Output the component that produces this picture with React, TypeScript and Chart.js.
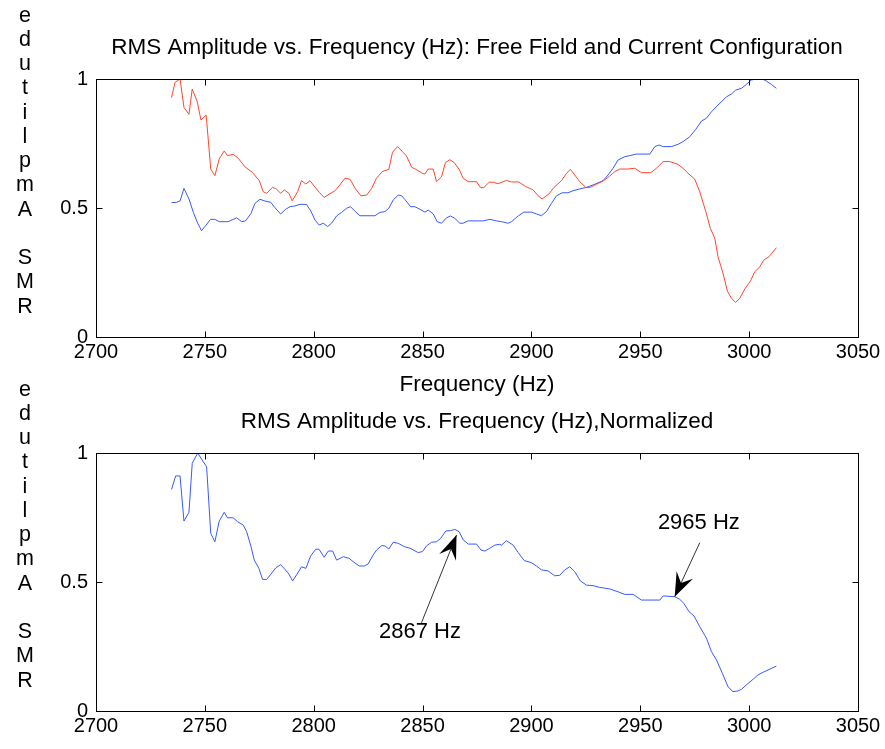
import React, { useEffect, useRef } from "react";
import { Chart, registerables } from "chart.js";

Chart.register(...registerables);

// ---------- data ----------
const redFreq = [2734.7, 2736.3, 2738.6, 2740.4, 2742.7, 2744.2, 2746.5, 2748.2, 2750.6, 2752.7, 2754.6, 2756.6, 2758.9, 2760.4, 2763.0, 2765.3, 2768.4, 2771.8, 2775.0, 2776.8, 2778.4, 2781.0, 2782.6, 2784.8, 2786.5, 2788.6, 2790.1, 2792.6, 2794.4, 2796.4, 2798.3, 2800.2, 2802.5, 2804.8, 2807.1, 2809.7, 2812.0, 2814.3, 2816.6, 2819.2, 2821.7, 2824.3, 2826.6, 2828.8, 2831.5, 2834.5, 2836.2, 2838.5, 2842.6, 2845.0, 2846.9, 2850.0, 2851.1, 2852.6, 2854.9, 2856.4, 2858.7, 2860.5, 2862.5, 2864.4, 2866.8, 2868.7, 2871.0, 2874.8, 2876.6, 2878.1, 2880.6, 2882.4, 2884.7, 2888.5, 2890.8, 2894.2, 2897.4, 2900.8, 2903.1, 2904.9, 2908.0, 2910.3, 2913.8, 2916.1, 2917.9, 2919.9, 2922.2, 2925.0, 2926.8, 2929.9, 2933.2, 2936.0, 2938.3, 2940.6, 2944.1, 2947.5, 2950.5, 2954.8, 2957.4, 2960.5, 2963.5, 2967.4, 2969.6, 2972.4, 2975.0, 2977.3, 2980.1, 2982.2, 2984.2, 2985.7, 2988.0, 2990.0, 2991.9, 2993.8, 2995.7, 2998.0, 3000.6, 3002.6, 3004.9, 3006.7, 3009.1, 3012.5];
const redAmp = [0.928, 0.987, 1.0, 0.89, 0.863, 0.961, 0.912, 0.841, 0.86, 0.651, 0.625, 0.69, 0.721, 0.703, 0.708, 0.693, 0.66, 0.638, 0.606, 0.563, 0.557, 0.579, 0.576, 0.557, 0.57, 0.557, 0.528, 0.563, 0.606, 0.593, 0.606, 0.585, 0.561, 0.541, 0.554, 0.566, 0.589, 0.615, 0.612, 0.574, 0.547, 0.55, 0.576, 0.615, 0.641, 0.65, 0.716, 0.738, 0.702, 0.658, 0.65, 0.634, 0.632, 0.651, 0.651, 0.602, 0.621, 0.676, 0.687, 0.677, 0.65, 0.615, 0.602, 0.602, 0.579, 0.579, 0.6, 0.6, 0.594, 0.607, 0.601, 0.601, 0.583, 0.57, 0.547, 0.535, 0.554, 0.579, 0.606, 0.634, 0.65, 0.628, 0.602, 0.58, 0.579, 0.592, 0.606, 0.624, 0.641, 0.651, 0.651, 0.654, 0.637, 0.637, 0.654, 0.68, 0.68, 0.669, 0.654, 0.631, 0.612, 0.563, 0.486, 0.421, 0.383, 0.311, 0.247, 0.178, 0.15, 0.134, 0.15, 0.186, 0.217, 0.253, 0.272, 0.298, 0.311, 0.346];

const blueFreq = [2734.7, 2737.0, 2738.6, 2740.4, 2742.7, 2744.7, 2746.7, 2748.5, 2750.3, 2752.6, 2754.6, 2756.6, 2760.7, 2764.6, 2766.9, 2768.7, 2771.2, 2773.0, 2775.3, 2777.6, 2780.3, 2782.2, 2784.8, 2787.1, 2789.1, 2791.4, 2793.7, 2796.7, 2798.7, 2800.6, 2802.5, 2804.4, 2806.4, 2808.2, 2810.5, 2812.8, 2815.1, 2816.9, 2818.9, 2821.2, 2828.1, 2830.4, 2832.7, 2834.5, 2836.5, 2838.8, 2840.3, 2841.9, 2844.5, 2846.5, 2848.8, 2851.1, 2852.6, 2854.9, 2856.7, 2858.7, 2861.0, 2862.8, 2864.8, 2867.1, 2868.6, 2870.9, 2877.8, 2880.9, 2884.0, 2886.3, 2889.3, 2890.8, 2893.9, 2896.5, 2900.0, 2902.3, 2904.6, 2906.9, 2909.2, 2911.5, 2914.1, 2916.8, 2919.1, 2922.2, 2925.3, 2929.1, 2932.9, 2935.2, 2937.5, 2939.8, 2942.9, 2945.2, 2948.2, 2954.4, 2956.7, 2958.6, 2960.5, 2964.3, 2967.4, 2969.6, 2972.7, 2975.5, 2978.1, 2980.4, 2982.7, 2985.7, 2989.6, 2991.9, 2993.8, 2996.5, 2998.7, 3001.0, 3003.0, 3006.1, 3007.9, 3010.2, 3012.5];
const blueAmp = [0.521, 0.522, 0.527, 0.576, 0.535, 0.483, 0.441, 0.412, 0.431, 0.456, 0.456, 0.447, 0.447, 0.462, 0.447, 0.45, 0.479, 0.518, 0.534, 0.527, 0.522, 0.501, 0.477, 0.495, 0.505, 0.508, 0.514, 0.514, 0.488, 0.453, 0.434, 0.441, 0.428, 0.441, 0.469, 0.483, 0.499, 0.505, 0.488, 0.47, 0.47, 0.483, 0.486, 0.499, 0.531, 0.55, 0.548, 0.533, 0.505, 0.505, 0.495, 0.484, 0.492, 0.477, 0.447, 0.441, 0.462, 0.469, 0.46, 0.441, 0.441, 0.45, 0.45, 0.456, 0.45, 0.447, 0.441, 0.447, 0.469, 0.484, 0.484, 0.477, 0.47, 0.486, 0.518, 0.547, 0.559, 0.559, 0.567, 0.574, 0.58, 0.592, 0.606, 0.628, 0.654, 0.686, 0.699, 0.703, 0.709, 0.709, 0.738, 0.744, 0.738, 0.738, 0.747, 0.757, 0.776, 0.805, 0.837, 0.848, 0.873, 0.899, 0.931, 0.942, 0.957, 0.964, 0.979, 0.996, 1.0, 1.0, 0.992, 0.979, 0.964];

const normFreq = [2734.7, 2736.6, 2738.6, 2740.4, 2742.7, 2744.2, 2746.7, 2748.5, 2750.8, 2752.7, 2754.6, 2756.6, 2758.9, 2760.4, 2763.0, 2765.0, 2767.6, 2769.2, 2771.2, 2772.7, 2774.8, 2776.5, 2778.4, 2780.3, 2782.6, 2784.8, 2786.8, 2788.6, 2790.3, 2792.4, 2794.4, 2796.4, 2798.6, 2800.9, 2802.4, 2804.8, 2806.7, 2808.7, 2810.5, 2813.6, 2816.2, 2818.1, 2820.9, 2823.2, 2825.0, 2827.3, 2828.9, 2831.2, 2832.7, 2834.5, 2836.5, 2838.8, 2841.6, 2844.2, 2848.0, 2850.0, 2851.8, 2854.1, 2856.4, 2858.3, 2860.7, 2862.9, 2864.8, 2866.8, 2868.7, 2871.0, 2874.8, 2876.8, 2878.6, 2880.9, 2883.2, 2885.2, 2886.3, 2888.5, 2891.6, 2893.9, 2896.7, 2900.0, 2902.3, 2904.6, 2907.6, 2910.7, 2913.0, 2915.3, 2917.6, 2919.9, 2922.5, 2925.3, 2928.3, 2931.4, 2936.0, 2939.8, 2942.9, 2946.7, 2950.5, 2959.0, 2960.5, 2965.8, 2968.1, 2970.0, 2972.4, 2974.7, 2977.3, 2980.4, 2982.7, 2985.0, 2987.7, 2990.3, 2992.6, 2994.9, 2996.5, 2998.7, 3001.8, 3004.1, 3006.4, 3008.7, 3012.5];
const normAmp = [0.859, 0.911, 0.911, 0.736, 0.77, 0.96, 1.0, 0.976, 0.947, 0.689, 0.656, 0.736, 0.77, 0.749, 0.749, 0.734, 0.721, 0.695, 0.637, 0.585, 0.553, 0.51, 0.51, 0.53, 0.555, 0.567, 0.549, 0.531, 0.504, 0.531, 0.559, 0.553, 0.601, 0.627, 0.627, 0.596, 0.62, 0.62, 0.585, 0.598, 0.592, 0.579, 0.562, 0.562, 0.57, 0.605, 0.624, 0.641, 0.64, 0.628, 0.654, 0.65, 0.637, 0.631, 0.614, 0.618, 0.64, 0.654, 0.656, 0.669, 0.698, 0.699, 0.704, 0.695, 0.663, 0.647, 0.647, 0.624, 0.62, 0.631, 0.643, 0.646, 0.643, 0.66, 0.643, 0.614, 0.583, 0.575, 0.562, 0.547, 0.543, 0.524, 0.526, 0.547, 0.559, 0.54, 0.504, 0.488, 0.486, 0.479, 0.473, 0.462, 0.452, 0.452, 0.43, 0.43, 0.446, 0.443, 0.433, 0.417, 0.385, 0.368, 0.327, 0.282, 0.23, 0.198, 0.146, 0.094, 0.075, 0.078, 0.084, 0.101, 0.123, 0.14, 0.15, 0.159, 0.174];

const xTicks = [2700, 2750, 2800, 2850, 2900, 2950, 3000, 3050];
const yTicks = [0, 0.5, 1];

const topTitle = "RMS Amplitude vs. Frequency (Hz): Free Field and Current Configuration";
const bottomTitle = "RMS Amplitude vs. Frequency (Hz),Normalized";
const xLabel = "Frequency (Hz)";
const yLabel = "RMS Amplitude";

// annotations (bottom plot): arrow tip, arrow tail, text anchor, text
const annTipFreq = [2865.6, 2965.8];
const annTipAmp = [0.682, 0.443];
const annTailFreq = [2849.5, 2977.3];
const annTailAmp = [0.342, 0.652];
const annTextFreq = [2848.8, 2976.9];
const annTextAmp = [0.306, 0.729];
const annText = ["2867 Hz", "2965 Hz"];

// ---------- styling ----------
const FONT_FAMILY = "'Liberation Sans', Arial, Helvetica, sans-serif";
const TICK_SIZE = 20;
const LABEL_SIZE = 22.5;
const ANN_SIZE = 22;
const W = 885;
const H = 749;

function framePlugin(opts: { title: string; xTitle?: string; annotations?: boolean }) {
  return {
    id: "matlabFrame",
    afterDraw(chart: any) {
      const ctx = chart.ctx as CanvasRenderingContext2D;
      const a = chart.chartArea;
      const xs = chart.scales.x;
      const ys = chart.scales.y;
      ctx.save();
      // box
      ctx.strokeStyle = "#000";
      ctx.lineWidth = 1;
      const l = Math.round(a.left) + 0.5;
      const r = Math.round(a.right) + 0.5;
      const t = Math.round(a.top) + 0.5;
      const b = Math.round(a.bottom) + 0.5;
      ctx.strokeRect(l, t, r - l, b - t);
      // inward ticks
      const tl = 6;
      ctx.beginPath();
      xTicks.forEach((v) => {
        const x = Math.round(xs.getPixelForValue(v)) + 0.5;
        ctx.moveTo(x, b);
        ctx.lineTo(x, b - tl);
        ctx.moveTo(x, t);
        ctx.lineTo(x, t + tl);
      });
      yTicks.forEach((v) => {
        const y = Math.round(ys.getPixelForValue(v)) + 0.5;
        ctx.moveTo(l, y);
        ctx.lineTo(l + tl, y);
        ctx.moveTo(r, y);
        ctx.lineTo(r - tl, y);
      });
      ctx.stroke();

      ctx.fillStyle = "#000";
      ctx.font = `${LABEL_SIZE}px ${FONT_FAMILY}`;
      ctx.textAlign = "center";
      ctx.textBaseline = "alphabetic";
      const cx = (a.left + a.right) / 2;
      // title
      ctx.fillText(opts.title, cx, a.top - 25);
      // x title
      if (opts.xTitle) ctx.fillText(opts.xTitle, cx, a.bottom + 54);
      // vertical stacked y label (reversed letters, upright)
      ctx.font = `${LABEL_SIZE - 1}px ${FONT_FAMILY}`;
      const letters = yLabel.split("").reverse();
      const cy = (a.top + a.bottom) / 2;
      const idxA = letters.indexOf("A");
      letters.forEach((ch, i) => {
        if (ch === " ") return;
        ctx.fillText(ch, 25, cy + (i - idxA) * 24.25 + 7.5);
      });

      if (opts.annotations) {
        ctx.font = `${ANN_SIZE}px ${FONT_FAMILY}`;
        for (let k = 0; k < annText.length; k++) {
          const x0 = xs.getPixelForValue(annTailFreq[k]);
          const y0 = ys.getPixelForValue(annTailAmp[k]);
          const x1 = xs.getPixelForValue(annTipFreq[k]);
          const y1 = ys.getPixelForValue(annTipAmp[k]);
          ctx.strokeStyle = "#333";
          ctx.lineWidth = 1;
          ctx.beginPath();
          ctx.moveTo(x0, y0);
          ctx.lineTo(x1, y1);
          ctx.stroke();
          const ang = Math.atan2(y1 - y0, x1 - x0);
          const len = 24;
          const hw = 9;
          const notch = 15;
          const ux = Math.cos(ang);
          const uy = Math.sin(ang);
          const px = -uy;
          const py = ux;
          const bx = x1 - ux * len;
          const by = y1 - uy * len;
          ctx.fillStyle = "#000";
          ctx.beginPath();
          ctx.moveTo(x1, y1);
          ctx.lineTo(bx + px * hw, by + py * hw);
          ctx.lineTo(x1 - ux * notch, y1 - uy * notch);
          ctx.lineTo(bx - px * hw, by - py * hw);
          ctx.closePath();
          ctx.fill();
          ctx.textBaseline = "middle";
          ctx.fillText(annText[k], xs.getPixelForValue(annTextFreq[k]), ys.getPixelForValue(annTextAmp[k]));
          ctx.textBaseline = "alphabetic";
        }
      }
      ctx.restore();
    },
  };
}

function makeOptions(top: number, bottom: number, xAxisH: number) {
  return {
    animation: false as const,
    responsive: false,
    devicePixelRatio: 1,
    layout: { padding: { top, left: 0, right: W - 858, bottom: H - bottom - xAxisH } },
    plugins: { legend: { display: false }, tooltip: { enabled: false }, title: { display: false } },
    elements: { point: { radius: 0 }, line: { borderWidth: 1, tension: 0 } },
    scales: {
      x: {
        type: "linear" as const,
        min: 2700,
        max: 3050,
        afterBuildTicks: (s: any) => {
          s.ticks = xTicks.map((v) => ({ value: v }));
        },
        afterFit: (s: any) => {
          s.height = xAxisH;
        },
        grid: { display: false, drawTicks: false },
        border: { display: false },
        ticks: {
          padding: 3,
          color: "#000",
          maxRotation: 0,
          autoSkip: false,
          font: { family: FONT_FAMILY, size: TICK_SIZE },
          callback: (v: any) => String(v),
        },
      },
      y: {
        type: "linear" as const,
        min: 0,
        max: 1,
        afterBuildTicks: (s: any) => {
          s.ticks = yTicks.map((v) => ({ value: v }));
        },
        afterFit: (s: any) => {
          s.width = 96;
        },
        grid: { display: false, drawTicks: false },
        border: { display: false },
        ticks: {
          padding: 8,
          color: "#000",
          font: { family: FONT_FAMILY, size: TICK_SIZE },
          callback: (v: any) => String(v),
        },
      },
    },
  };
}

const toPts = (f: number[], v: number[]) => f.map((x, i) => ({ x, y: v[i] }));

export default function App() {
  const topRef = useRef<HTMLCanvasElement | null>(null);
  const botRef = useRef<HTMLCanvasElement | null>(null);

  useEffect(() => {
    document.body.style.margin = "0";
    const c1 = new Chart(topRef.current as HTMLCanvasElement, {
      type: "line",
      data: {
        datasets: [
          { data: toPts(redFreq, redAmp), borderColor: "rgb(255,70,45)", borderWidth: 1, fill: false },
          { data: toPts(blueFreq, blueAmp), borderColor: "rgb(55,90,255)", borderWidth: 1, fill: false },
        ],
      },
      options: makeOptions(79, 337, 40) as any,
      plugins: [framePlugin({ title: topTitle, xTitle: xLabel })],
    });
    const c2 = new Chart(botRef.current as HTMLCanvasElement, {
      type: "line",
      data: {
        datasets: [{ data: toPts(normFreq, normAmp), borderColor: "rgb(55,90,255)", borderWidth: 1, fill: false }],
      },
      options: makeOptions(453, 711, 38) as any,
      plugins: [framePlugin({ title: bottomTitle, annotations: true })],
    });
    return () => {
      c1.destroy();
      c2.destroy();
    };
  }, []);

  const style: React.CSSProperties = { position: "absolute", left: 0, top: 0, width: W, height: H };
  return (
    <div style={{ position: "relative", width: W, height: H, background: "#fff" }}>
      <canvas ref={topRef} width={W} height={H} style={style} />
      <canvas ref={botRef} width={W} height={H} style={style} />
    </div>
  );
}
